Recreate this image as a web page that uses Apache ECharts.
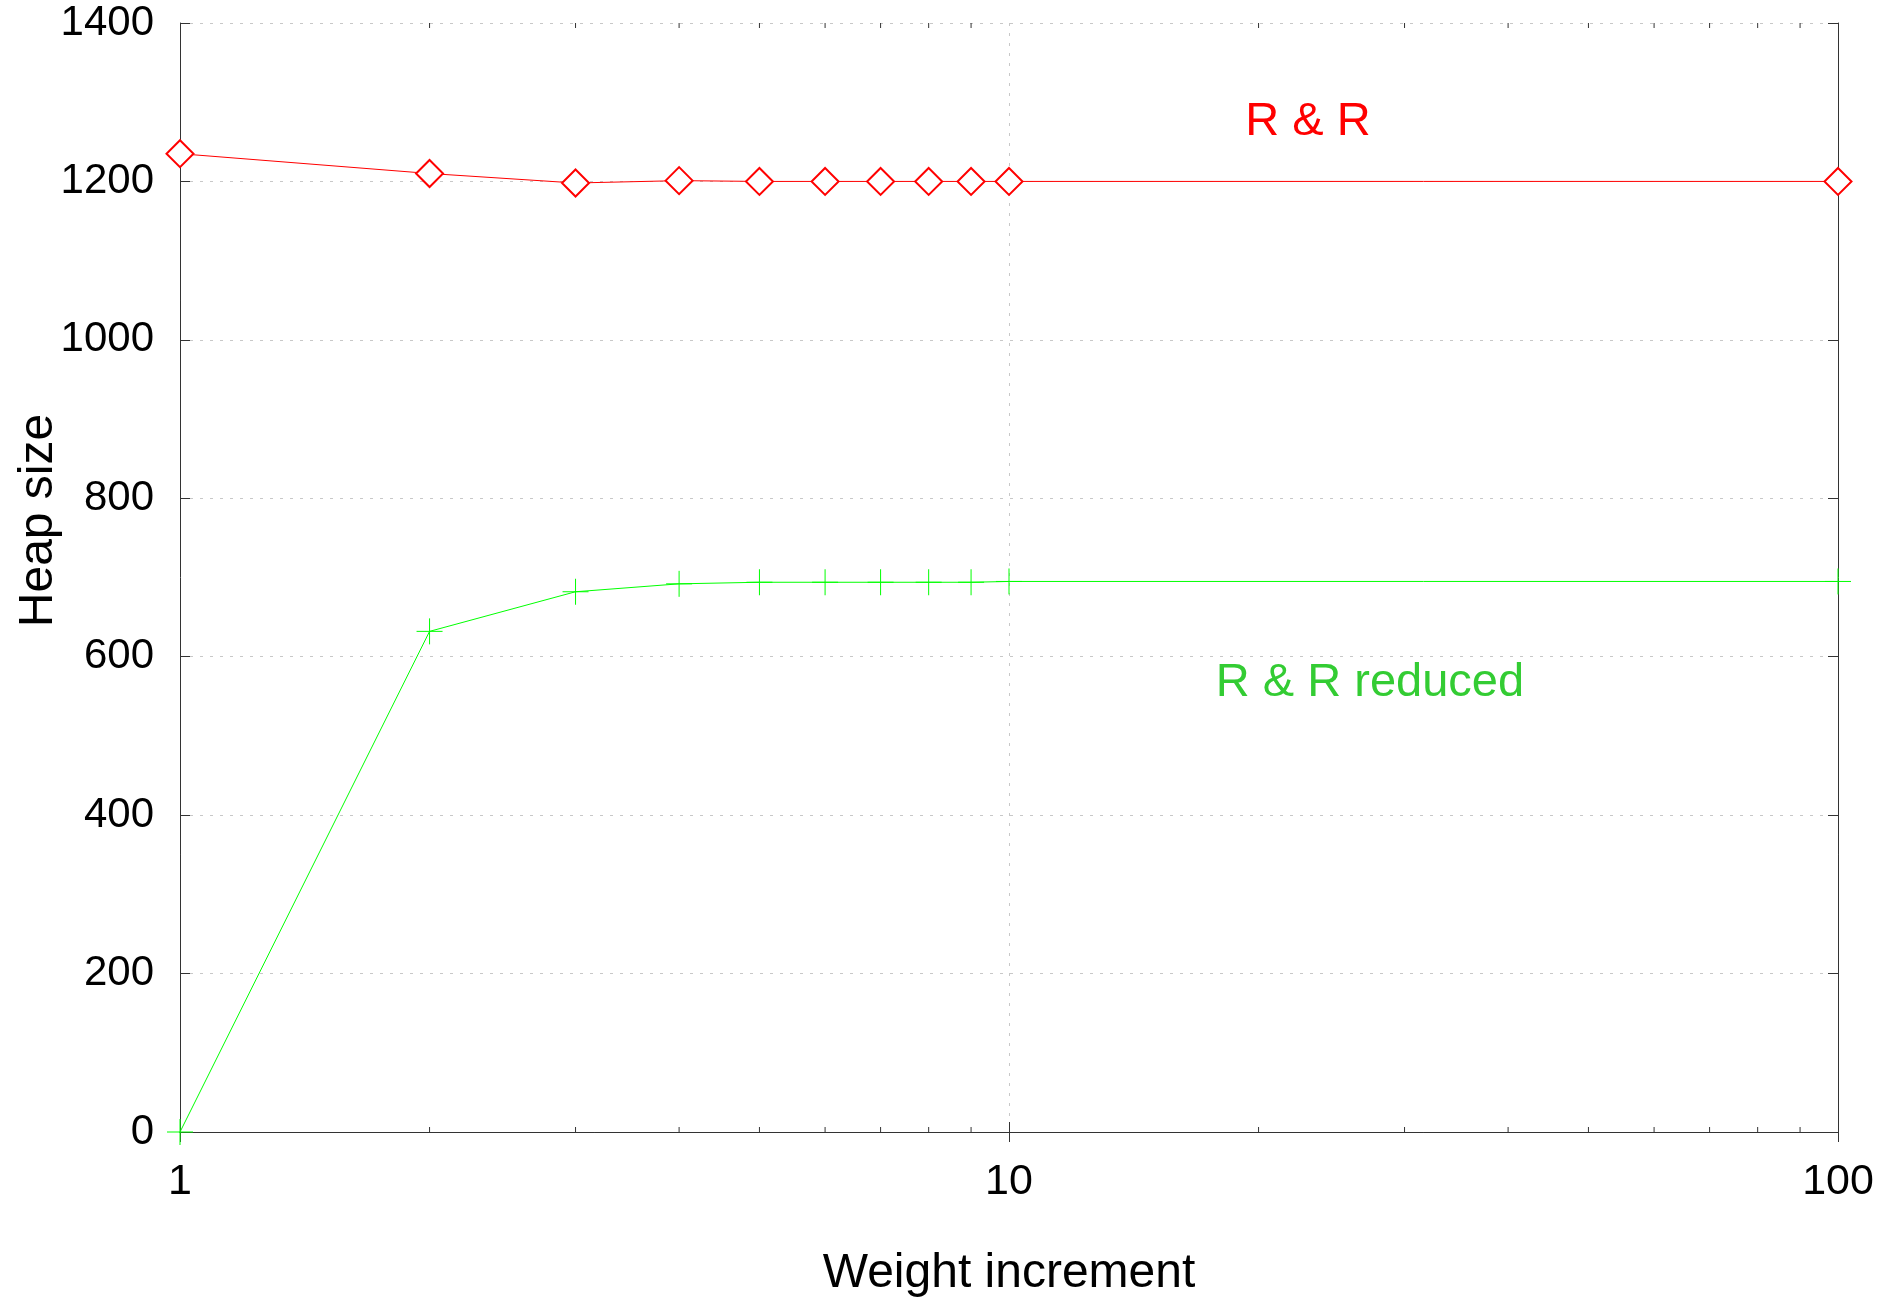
<!DOCTYPE html>
<html>
<head>
<meta charset="utf-8">
<title>Heap size vs weight increment</title>
<script src="https://cdn.jsdelivr.net/npm/echarts/dist/echarts.min.js"></script>
<style>
    html, body { margin: 0; padding: 0; background: #fff; }
    #chart { width: 1887px; height: 1299px; }
</style>
</head>
<body>
<div id="chart"></div>
<script>
    // data
    var weights = [1, 2, 3, 4, 5, 6, 7, 8, 9, 10, 100]
    var heapRR = [1235, 1210, 1198, 1201, 1200, 1200, 1200, 1200, 1200, 1200, 1200]
    var heapReduced = [0, 632, 682, 692, 694, 694, 694, 694, 694, 695, 695]
    var minorTicks = [2, 3, 4, 5, 6, 7, 8, 9, 20, 30, 40, 50, 60, 70, 80, 90]
    var yTicks = { min: 0, max: 1400, step: 200 }

    var font = '"Liberation Sans", Arial, sans-serif'
    var axisColor = '#333'

    function pairs(xs, ys) {
        return xs.map(function (x, i) { return [x, ys[i]] })
    }

    var myChart = echarts.init(document.getElementById('chart'))

    // small inward ticks at 2..9, 20..90 on bottom and top edges
    function minorTickItem(params, api) {
        var v = api.value(0)
        var bottom = api.coord([v, yTicks.min])
        var top = api.coord([v, yTicks.max])
        var st = { stroke: axisColor, lineWidth: 1 }
        return {
            type: 'group',
            children: [
                { type: 'line', shape: { x1: bottom[0], y1: bottom[1], x2: bottom[0], y2: bottom[1] - 5 }, style: st },
                { type: 'line', shape: { x1: top[0], y1: top[1], x2: top[0], y2: top[1] + 5 }, style: st }
            ]
        }
    }

    var xBase = {
        type: 'log',
        logBase: 10,
        min: 1,
        max: 100,
        axisLine: { show: true, lineStyle: { color: axisColor, width: 1 } },
        axisTick: { show: true, inside: true, length: 10, lineStyle: { color: axisColor } },
        minorTick: { show: false }
    }
    var yBase = {
        type: 'value',
        min: yTicks.min,
        max: yTicks.max,
        interval: yTicks.step,
        axisLine: { show: true, lineStyle: { color: axisColor, width: 1 } },
        axisTick: { show: true, inside: true, length: 10, lineStyle: { color: axisColor } }
    }

    var option = {
        animation: false,
        backgroundColor: '#fff',
        textStyle: { fontFamily: font },
        grid: { left: 180, top: 23, right: 49, bottom: 167, containLabel: false, outerBoundsMode: 'none' },
        xAxis: [
            Object.assign({}, xBase, {
                position: 'bottom',
                name: 'Weight increment',
                nameLocation: 'middle',
                nameGap: 118,
                nameMoveOverlap: false,
                nameTextStyle: { fontSize: 48, color: '#000', fontFamily: font },
                axisLabel: { fontSize: 43, color: '#000', margin: 29, fontFamily: font },
                splitLine: { show: true, lineStyle: { color: '#c8c8c8', type: [3, 7], width: 1 } }
            }),
            Object.assign({}, xBase, {
                position: 'top',
                axisLabel: { show: false },
                splitLine: { show: false }
            })
        ],
        yAxis: [
            Object.assign({}, yBase, {
                position: 'left',
                name: 'Heap size',
                nameLocation: 'middle',
                nameGap: 117,
                nameMoveOverlap: false,
                nameTextStyle: { fontSize: 48, color: '#000', fontFamily: font, padding: [0, 0, 0, 114] },
                axisLabel: {
                    fontSize: 42, color: '#000', margin: 26, fontFamily: font,
                    formatter: function (v) { return String(v) }
                },
                splitLine: { show: true, lineStyle: { color: '#c8c8c8', type: [3, 7], width: 1 } }
            }),
            Object.assign({}, yBase, {
                position: 'right',
                axisLabel: { show: false },
                splitLine: { show: false }
            })
        ],
        series: [
            {
                name: 'R & R',
                type: 'line',
                data: pairs(weights, heapRR),
                symbol: 'emptyDiamond',
                symbolSize: 27,
                itemStyle: { color: '#ff0000', borderWidth: 1 },
                lineStyle: { color: '#ff0000', width: 1 },
                z: 5
            },
            {
                name: 'R & R reduced',
                type: 'line',
                data: pairs(weights, heapReduced),
                symbol: 'path://M12,0L12,24M0,12L24,12',
                symbolSize: 26,
                itemStyle: { color: 'none', borderColor: '#00ff00', borderWidth: 1 },
                lineStyle: { color: '#00ff00', width: 1 },
                z: 5
            },
            {
                type: 'custom',
                renderItem: minorTickItem,
                data: minorTicks.map(function (v) { return [v, 0] }),
                silent: true,
                z: 3
            }
        ],
        graphic: [
            {
                type: 'text',
                x: 1308, y: 122,
                style: { text: 'R & R', fill: '#ff0000', font: '47px ' + font, align: 'center', verticalAlign: 'middle' }
            },
            {
                type: 'text',
                x: 1370, y: 683,
                style: { text: 'R & R reduced', fill: '#33cc33', font: '47px ' + font, align: 'center', verticalAlign: 'middle' }
            }
        ]
    }

    myChart.setOption(option)
</script>
</body>
</html>
